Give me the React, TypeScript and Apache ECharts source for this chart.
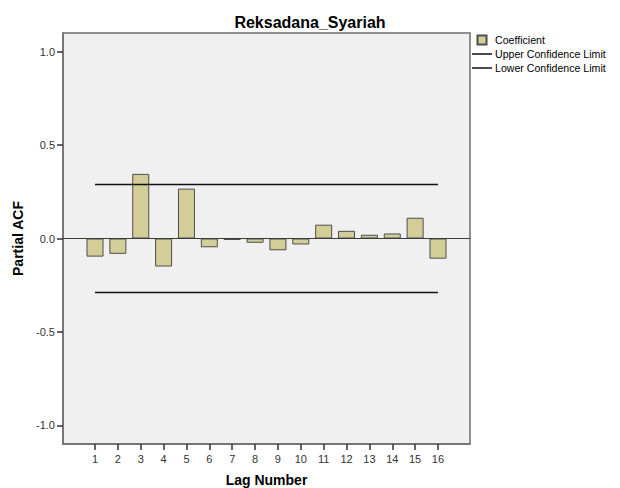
import React, { useEffect, useRef } from "react";
import * as echarts from "echarts";

const chartTitle = "Reksadana_Syariah";
const lags = [1, 2, 3, 4, 5, 6, 7, 8, 9, 10, 11, 12, 13, 14, 15, 16];
const pacf = [
  -0.097, -0.082, 0.346, -0.15, 0.267, -0.047, -0.008, -0.023, -0.063, -0.032,
  0.074, 0.041, 0.02, 0.027, 0.111, -0.108,
];
const upperLimit = 0.289;
const lowerLimit = -0.289;
const yTicks = [-1, -0.5, 0, 0.5, 1];

const FONT = "Liberation Sans, Arial, sans-serif";

export default function App() {
  const ref = useRef<HTMLDivElement>(null);

  useEffect(() => {
    if (!ref.current) return;
    const chart = echarts.init(ref.current, undefined, { renderer: "svg" });
    const first = lags[0];
    const last = lags[lags.length - 1];
    chart.setOption({
      animation: false,
      backgroundColor: "#ffffff",
      textStyle: { fontFamily: FONT },
      title: {
        text: chartTitle,
        left: "center",
        top: 9,
        textStyle: { fontSize: 16, fontWeight: "bold", color: "#000", fontFamily: FONT },
      },
      legend: {
        orient: "vertical",
        left: 472,
        top: 34,
        padding: 0,
        itemWidth: 20,
        itemHeight: 9,
        itemGap: 2,
        textStyle: { fontSize: 10.6, color: "#000", lineHeight: 12, fontFamily: FONT, padding: [0, 0, 0, -2] },
        data: [
          { name: "Coefficient", icon: "path://M0,0H10V10H0Z" },
          { name: "Upper Confidence Limit", icon: "path://M0,0H20V1.5H0Z" },
          { name: "Lower Confidence Limit", icon: "path://M0,0H20V1.5H0Z" },
        ],
      },
      grid: {
        left: 63,
        right: 150,
        top: 33,
        bottom: 44,
        show: true,
        outerBoundsMode: "none",
        containLabel: false,
        backgroundColor: "#f0f0f0",
        borderColor: "#6e6e6e",
        borderWidth: 1.5,
      },
      xAxis: {
        type: "value",
        min: first - 1.4,
        max: last + 1.4,
        name: "Lag Number",
        nameLocation: "middle",
        nameGap: 29,
        nameTextStyle: { fontSize: 14, fontWeight: "bold", color: "#000", fontFamily: FONT },
        splitLine: { show: false },
        axisLine: { show: true, onZero: false, lineStyle: { color: "#6e6e6e", width: 1.5 } },
        axisTick: {
          show: true,
          length: 6,
          customValues: lags,
          lineStyle: { color: "#333", width: 1.5 },
        },
        axisLabel: {
          customValues: lags,
          fontSize: 11,
          color: "#333",
          margin: 9,
          fontFamily: FONT,
          formatter: (v: number) => String(v),
        },
      },
      yAxis: {
        type: "value",
        min: -1.1,
        max: 1.1,
        name: "Partial ACF",
        nameLocation: "middle",
        nameGap: 32,
        nameTextStyle: { fontSize: 14, fontWeight: "bold", color: "#000", fontFamily: FONT },
        splitLine: { show: false },
        axisLine: { show: true, onZero: false, lineStyle: { color: "#6e6e6e", width: 1.5 } },
        axisTick: {
          show: true,
          length: 6,
          customValues: yTicks,
          lineStyle: { color: "#333", width: 1.5 },
        },
        axisLabel: {
          customValues: yTicks,
          fontSize: 11,
          color: "#333",
          margin: 8,
          fontFamily: FONT,
          formatter: (v: number) => v.toFixed(1),
        },
      },
      series: [
        {
          name: "Coefficient",
          type: "bar",
          barWidth: 17,
          data: lags.map((l, i) => [l, pacf[i]]),
          itemStyle: { color: "#d3ce98", borderColor: "#4d4d4d", borderWidth: 1 },
          markLine: {
            silent: true,
            symbol: "none",
            label: { show: false },
            lineStyle: { color: "#3c3c3c", width: 1, type: "solid" },
            data: [{ yAxis: 0 }],
          },
          z: 3,
        },
        {
          name: "Upper Confidence Limit",
          type: "line",
          symbol: "none",
          data: [
            [first, upperLimit],
            [last, upperLimit],
          ],
          lineStyle: { color: "#111", width: 1.5 },
          itemStyle: { color: "#111" },
          z: 4,
        },
        {
          name: "Lower Confidence Limit",
          type: "line",
          symbol: "none",
          data: [
            [first, lowerLimit],
            [last, lowerLimit],
          ],
          lineStyle: { color: "#111", width: 1.5 },
          itemStyle: { color: "#111" },
          z: 4,
        },
      ],
    });
    return () => chart.dispose();
  }, []);

  return <div ref={ref} style={{ width: 620, height: 488, position: "absolute", left: 0, top: 0 }} />;
}
